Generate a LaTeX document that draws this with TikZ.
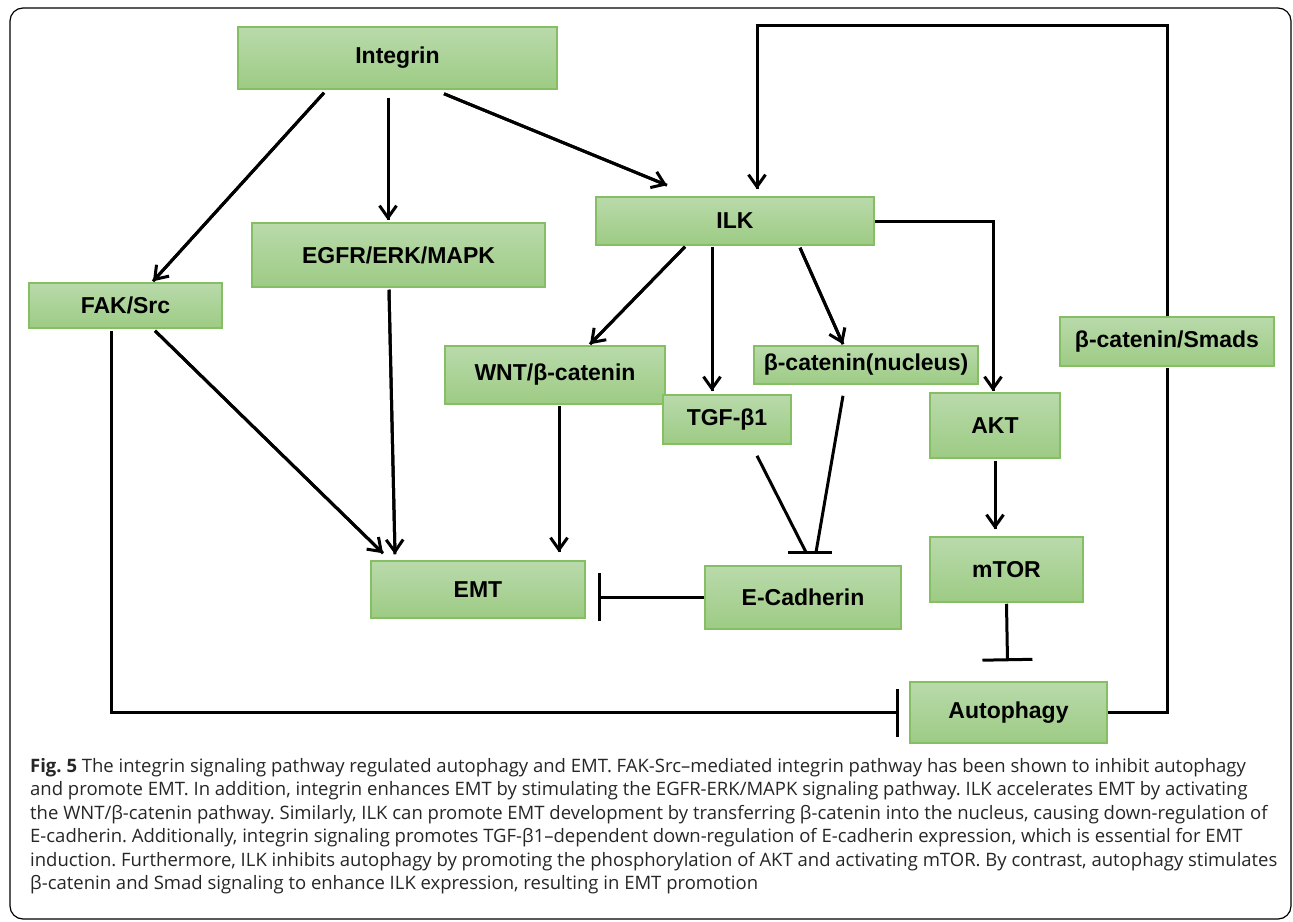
\documentclass[tikz,border=0pt]{standalone}
\usepackage{fontspec}
\setmainfont{Liberation Sans}
\newfontfamily\capfont{Open Sans}
\usepackage{tikz}
\tikzset{>=latex}
\usetikzlibrary{arrows.meta}
\definecolor{boxtop}{HTML}{B9DAAB}
\definecolor{boxbot}{HTML}{9DCB84}
\definecolor{boxline}{HTML}{86BF63}
\frenchspacing

% filled open-V head
\pgfdeclarearrow{
  name = Chevron,
  setup code = {
    \pgfarrowssettipend{2.6pt}
    \pgfarrowssetlineend{0pt}
    \pgfarrowssetbackend{-12.9pt}
    \pgfarrowssetvisualbackend{-12.9pt}
    \pgfarrowshullpoint{2.6pt}{0pt}
    \pgfarrowshullpoint{-12.9pt}{9.8pt}
    \pgfarrowshullpoint{-12.9pt}{-9.8pt}
  },
  drawing code = {
    \pgfpathmoveto{\pgfqpoint{2.6pt}{0pt}}
    \pgfpathlineto{\pgfqpoint{-11.13pt}{9.72pt}}
    \pgfpathlineto{\pgfqpoint{-12.87pt}{7.28pt}}
    \pgfpathlineto{\pgfqpoint{-2.6pt}{0pt}}
    \pgfpathlineto{\pgfqpoint{-12.87pt}{-7.28pt}}
    \pgfpathlineto{\pgfqpoint{-11.13pt}{-9.72pt}}
    \pgfpathclose
    \pgfusepathqfill
  }
}
% thick line, then its head on top
\newcommand{\sigpath}[1]{\draw[link] #1; \draw[head] #1;}

\begin{document}
\begin{tikzpicture}[x=1pt, y=-1pt,
    box/.style={draw=boxline, line width=1.5pt, top color=boxtop, bottom color=boxbot,
        font=\fontsize{23}{27}\selectfont\bfseries, inner sep=0pt},
    head/.style={line width=3pt, arrows={-Chevron}},
    inh/.style={line width=3pt, arrows={-Bar[width=48pt, line width=3pt]}},
    link/.style={line width=3pt},
    capline/.style={anchor=base west, inner sep=0pt, text=black!85,
        font=\capfont\fontsize{18.5}{22}\selectfont}]

    \useasboundingbox (0,0) rectangle (1293,921);
    \draw[line width=1.2pt, rounded corners=13pt] (10,8) rectangle (1291,919);

    % Boxes
    \node[box, minimum width=319pt, minimum height=62pt] (integrin) at (397.5,58) {Integrin};
    \node[box, minimum width=293pt, minimum height=64pt] (egfr) at (398.5,255) {EGFR/ERK/MAPK};
    \node[box, minimum width=193pt, minimum height=45pt] (fak) at (125.5,305.5) {FAK/Src};
    \node[box, minimum width=278pt, minimum height=48pt] (ilk) at (735,221) {ILK};
    \node[box, minimum width=220pt, minimum height=58pt] (wnt) at (555,375) {WNT/β-catenin};
    \node[box, minimum width=128pt, minimum height=49pt] (tgf) at (727,419.5) {TGF-β1};
    \node[box, minimum width=224pt, minimum height=38pt] (bcatn) at (866,365) {β-catenin(nucleus)};
    \node[box, minimum width=130pt, minimum height=65pt] (akt) at (995,425.5) {AKT};
    \node[box, minimum width=214pt, minimum height=49pt] (smads) at (1167,341.5) {β-catenin/Smads};
    \node[box, minimum width=153pt, minimum height=65pt] (mtor) at (1006.5,569.5) {mTOR};
    \node[box, minimum width=214pt, minimum height=57pt] (emt) at (478,589.5) {EMT};
    \node[box, minimum width=196pt, minimum height=63pt] (ecad) at (803,597.5) {E-Cadherin};
    \node[box, minimum width=197pt, minimum height=61pt] (autoph) at (1008.5,712.5) {Autophagy};

    % Integrin branches
    \sigpath{([xshift=-73.5pt, yshift=-3pt]integrin.south) -- ([xshift=27.5pt, yshift=1pt]fak.north)}
    \sigpath{([xshift=-9.5pt, yshift=-8pt]integrin.south) -- ([xshift=-10.5pt, yshift=2pt]egfr.north)}
    \sigpath{([xshift=46.5pt, yshift=-4pt]integrin.south) -- ([xshift=-68pt, yshift=11pt]ilk.north)}

    % towards EMT
    \sigpath{([xshift=29.5pt, yshift=-2pt]fak.south) -- ([xshift=-95pt, yshift=7pt]emt.north)}
    \sigpath{([xshift=-9.5pt, yshift=-2pt]egfr.south) -- ([xshift=-83pt, yshift=6pt]emt.north)}
    \sigpath{([xshift=4pt, yshift=-1pt]wnt.south) -- ([xshift=81pt, yshift=8pt]emt.north)}
    \draw[inh] (ecad.west |- 0,597) -- ([xshift=12pt]emt.east |- 0,597);

    % ILK branches
    \sigpath{([xshift=-50pt, yshift=-1pt]ilk.south) -- ([xshift=35pt, yshift=1pt]wnt.north)}
    \sigpath{([xshift=-23pt, yshift=-1pt]ilk.south) -- ([xshift=-15pt, yshift=3pt]tgf.north)}
    \sigpath{([xshift=65pt, yshift=-2pt]ilk.south) -- ([xshift=-23pt, yshift=1pt]bcatn.north)}
    \sigpath{(ilk.east) -| ([xshift=-2pt, yshift=1pt]akt.north)}

    % E-Cadherin block
    \coordinate (ebar) at ([xshift=7pt, yshift=13pt]ecad.north);
    \draw[link] ([xshift=30pt, yshift=-11pt]tgf.south) -- ([xshift=-4pt]ebar);
    \draw[link] ([xshift=-23pt, yshift=-11pt]bcatn.south) -- ([xshift=6pt]ebar);
    \draw[link] ([xshift=-22pt]ebar) -- ([xshift=22pt]ebar);

    % AKT / mTOR / Autophagy
    \sigpath{([yshift=-2pt]akt.south) -- ([xshift=-11.5pt, yshift=7pt]mtor.north)}
    \draw[inh, arrows={-Bar[width=50pt, line width=3pt]}] ([yshift=-1pt]mtor.south) -- ([xshift=-1pt, yshift=20pt]autoph.north);
    \draw[inh] ([xshift=-14.5pt, yshift=-2pt]fak.south) |- ([xshift=-10pt]autoph.west);

    % feedback loop
    \draw[link] (autoph.east) -| ([yshift=-1pt]smads.south);
    \sigpath{(smads.north) -- ++(0,-291) -| ([xshift=22pt, yshift=7pt]ilk.north)}

    % Caption
    \node[capline] (cap1) at (30,772) {\textbf{Fig. 5} The integrin signaling pathway regulated autophagy and EMT. FAK-Src–mediated integrin pathway has been shown to inhibit autophagy};
    \node[capline] (cap2) at (30,795.5) {and promote EMT. In addition, integrin enhances EMT by stimulating the EGFR-ERK/MAPK signaling pathway. ILK accelerates EMT by activating};
    \node[capline] (cap3) at (30,819) {the WNT/β-catenin pathway. Similarly, ILK can promote EMT development by transferring β-catenin into the nucleus, causing down-regulation of};
    \node[capline] (cap4) at (30,842.5) {E-cadherin. Additionally, integrin signaling promotes TGF-β1–dependent down-regulation of E-cadherin expression, which is essential for EMT};
    \node[capline] (cap5) at (30,866) {induction. Furthermore, ILK inhibits autophagy by promoting the phosphorylation of AKT and activating mTOR. By contrast, autophagy stimulates};
    \node[capline] (cap6) at (30,889.5) {β-catenin and Smad signaling to enhance ILK expression, resulting in EMT promotion};

\end{tikzpicture}
\end{document}
